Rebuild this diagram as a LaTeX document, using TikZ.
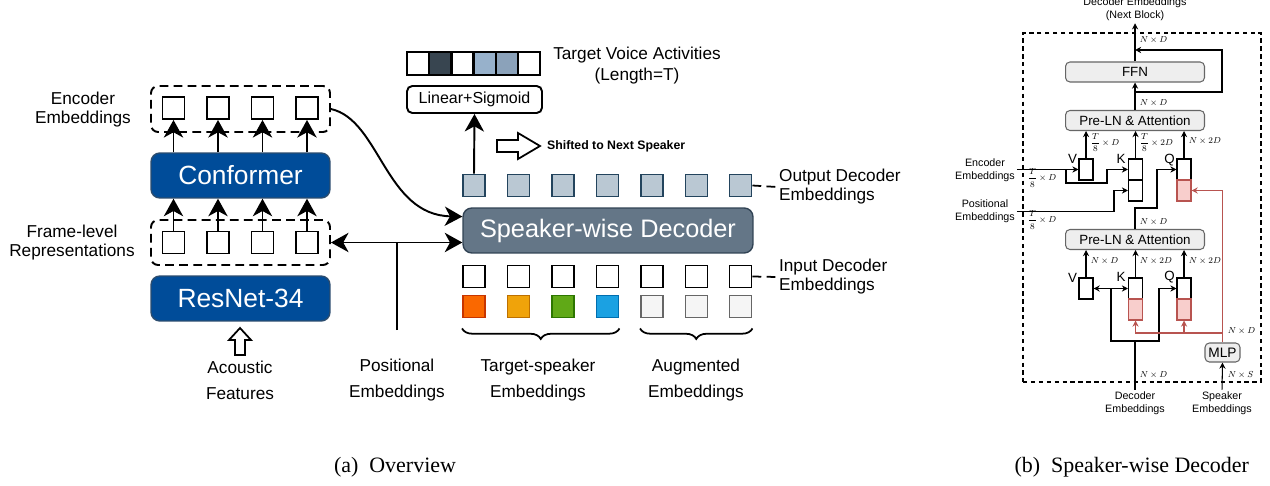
\documentclass[tikz,border=0pt]{standalone}
\usepackage{amsmath}
\usepackage[no-math]{fontspec}
\setmainfont{Liberation Sans}
\newfontfamily\capfont{Liberation Serif}
\usetikzlibrary{arrows.meta,decorations.pathreplacing,calc}
\definecolor{cblue}{HTML}{004C99}
\definecolor{cblued}{HTML}{2B4C6F}
\definecolor{cdec}{HTML}{647687}
\definecolor{cdecd}{HTML}{314354}
\definecolor{osqf}{HTML}{BAC8D3}
\definecolor{osqd}{HTML}{23445D}
\definecolor{redf}{HTML}{F8CECC}
\definecolor{redd}{HTML}{B85450}
\definecolor{grayf}{HTML}{EEEEEE}
\definecolor{grayd}{HTML}{666666}
\definecolor{c1f}{HTML}{FA6800}\definecolor{c1d}{HTML}{C73500}
\definecolor{c2f}{HTML}{F0A30A}\definecolor{c2d}{HTML}{BD7000}
\definecolor{c3f}{HTML}{60A917}\definecolor{c3d}{HTML}{2D7600}
\definecolor{c4f}{HTML}{1BA1E2}\definecolor{c4d}{HTML}{006EAF}
\definecolor{c5f}{HTML}{F5F5F5}\definecolor{c5d}{HTML}{666666}
\definecolor{vdark}{HTML}{384550}
\definecolor{vl1}{HTML}{97B1CB}
\definecolor{vl2}{HTML}{8BA2BA}
\begin{document}
\begin{tikzpicture}[x=0.02cm,y=-0.02cm,
  every node/.style={inner sep=1pt},
  lab/.style={font=\fontsize{9.8}{10.8}\selectfont, align=center},
  labw/.style={font=\fontsize{9.8}{14.7}\selectfont, align=center},
  dbox/.style={draw, line width=1.1pt, dash pattern=on 5pt off 3pt, rounded corners=4pt, minimum width=3.58cm},
  wsq/.style={draw, fill=white, line width=1.1pt, minimum width=0.44cm, minimum height=0.44cm, inner sep=0pt},
  osq/.style={wsq, draw=osqd, fill=osqf},
  vcell/.style={draw, line width=1.3pt, minimum width=0.444cm, minimum height=0.46cm, inner sep=0pt},
  bbox/.style={draw=cblued, fill=cblue, line width=0.8pt, rounded corners=5pt, text=white, font=\fontsize{15}{16}\selectfont, minimum width=3.58cm, minimum height=0.9cm},
  decbox/.style={draw=cdecd, fill=cdec, line width=0.8pt, rounded corners=5pt, text=white, font=\fontsize{14.4}{16}\selectfont, minimum width=5.8cm, minimum height=0.9cm},
  lsbox/.style={draw, line width=1.1pt, rounded corners=3pt, fill=white, font=\fontsize{9.1}{10}\selectfont, minimum width=2.7cm, minimum height=0.54cm},
  bigarr/.style={line width=1.1pt, -{Stealth[length=10pt,width=11pt,inset=3pt]}},
  dblarr/.style={line width=1.1pt, {Stealth[length=10pt,width=11pt,inset=3pt]}-{Stealth[length=10pt,width=11pt,inset=3pt]}},
  dline/.style={line width=1pt, dash pattern=on 5pt off 3pt},
  brc/.style={decorate, decoration={brace, mirror, amplitude=6pt}, line width=1pt},
  hollow/.style={draw, line width=1pt, fill=white, line join=miter},
  gbox/.style={draw=grayd, fill=grayf, line width=0.6pt, rounded corners=2.5pt, font=\fontsize{7.6}{8}\selectfont, minimum width=2.78cm, minimum height=0.4cm, inner sep=0pt},
  abox/.style={draw, fill=white, line width=0.6pt, minimum width=0.28cm, minimum height=0.42cm, inner sep=0pt},
  rbox/.style={abox, draw=redd, fill=redf},
  slab/.style={font=\fontsize{6.1}{7.6}\selectfont, align=center},
  klab/.style={font=\fontsize{7.6}{8}\selectfont},
  mlab/.style={font=\fontsize{8}{9}\selectfont, scale=0.62, anchor=west, inner sep=0.5pt},
  sarr/.style={line width=0.6pt, -{Stealth[length=3.5pt,width=3.5pt]}},
  sdbl/.style={line width=0.6pt, {Stealth[length=3.5pt,width=3.5pt]}-{Stealth[length=3.5pt,width=3.5pt]}},
  rarr/.style={line width=0.6pt, draw=redd, -{Stealth[length=3.5pt,width=3.5pt]}},
  sline/.style={line width=0.6pt}
]
\useasboundingbox (0,0) rectangle (1270,486);

% ===================== Panel (a) =====================
\node[dbox, minimum height=0.92cm] (encbox) at (240.5,109) {};
\node[dbox, minimum height=0.9cm] (frbox) at (240.5,242.5) {};
\node[bbox] (conf) at (240.5,175.5) {Conformer};
\node[bbox] (res) at (240.5,298.5) {ResNet-34};
\foreach \i/\x in {1/173.5,2/218,3/262.5,4/307}{
  \node[wsq] (e\i) at (\x,108) {};
  \node[wsq] (f\i) at (\x,242.5) {};
  \draw[bigarr] (conf.north -| e\i.south) -- (e\i.south);
  \draw[bigarr] (f\i.north) -- (conf.south -| f\i.north);
}
\node[lab] (encl) at (83,110) {Encoder\\Embeddings};
\node[lab] (frl) at (72,243) {Frame-level\\Representations};
\draw[hollow] (240,328) -- (251,340) -- (245,340) -- (245,355) -- (235,355) -- (235,340) -- (229,340) -- cycle;
\node[labw] (acl) at (240,380) {Acoustic\\Features};

% decoder
\node[decbox] (dec) at (608,230.5) {Speaker-wise Decoder};
\foreach \i/\x in {1/474,2/518.5,3/563,4/607.5,5/652,6/696.5,7/740.5}{
  \node[osq] (o\i) at (\x,185.5) {};
  \node[wsq] (in\i) at (\x,276.5) {};
}
\node[wsq, fill=c1f, draw=c1d] (c1) at (474,306.5) {};
\node[wsq, fill=c2f, draw=c2d] (c2) at (518.5,306.5) {};
\node[wsq, fill=c3f, draw=c3d] (c3) at (563,306.5) {};
\node[wsq, fill=c4f, draw=c4d] (c4) at (607.5,306.5) {};
\node[wsq, fill=c5f, draw=c5d] (c5) at (652,306.5) {};
\node[wsq, fill=c5f, draw=c5d] (c6) at (696.5,306.5) {};
\node[wsq, fill=c5f, draw=c5d] (c7) at (740.5,306.5) {};

\draw[bigarr] (encbox.east) .. controls (380,120) and (385,215) .. ($(dec.north west)!0.2!(dec.south west)$);
\draw[dblarr] (frbox.east) -- (dec.west |- frbox.east);
\coordinate (posend) at (397,330);
\draw[line width=1.1pt] (posend) -- (posend |- frbox.east);
\node[labw] (posl) at (397,380) {Positional\\Embeddings};

\node[lab, anchor=west, align=left] (outl) at (777,187) {Output Decoder\\Embeddings};
\node[lab, anchor=west, align=left] (inl) at (777,277) {Input Decoder\\Embeddings};
\draw[dline] (o7.east) -- (outl.west);
\draw[dline] (in7.east) -- (inl.west);

\draw[brc] ($(c1.south west)+(0,10)$) -- ($(c4.south east)+(0,10)$);
\draw[brc] ($(c5.south west)+(0,10)$) -- ($(c7.south east)+(0,10)$);
\node[labw] (tsl) at (538,380) {Target-speaker\\Embeddings};
\node[labw] (augl) at (696,380) {Augmented\\Embeddings};

% top
\node[vcell, fill=white] (v1) at (418.1,63.5) {};
\node[vcell, fill=vdark] (v2) at (440.3,63.5) {};
\node[vcell, fill=white] (v3) at (462.5,63.5) {};
\node[vcell, fill=vl1] (v4) at (484.7,63.5) {};
\node[vcell, fill=vl2] (v5) at (506.9,63.5) {};
\node[vcell, fill=white] (v6) at (529.1,63.5) {};
\node[font=\fontsize{9.8}{11.9}\selectfont, align=center] (tva) at (637,66) {Target Voice Activities\\(Length=T)};
\node[lsbox] (lin) at (474.5,99.5) {Linear+Sigmoid};
\draw[bigarr] (o1.north) -- (lin.south);
\draw[hollow] (497,140) -- (518,140) -- (518,133) -- (540,146) -- (518,159) -- (518,152) -- (497,152) -- cycle;
\node[font=\bfseries\fontsize{7}{8}\selectfont, anchor=west] (shl) at (545,146) {Shifted to Next Speaker};

\node[font=\capfont\fontsize{12.5}{14}\selectfont] (capa) at (395,467) {(a)\ \ Overview};

% ===================== Panel (b) =====================
\node[draw, line width=0.9pt, dash pattern=on 2.5pt off 2pt, minimum width=4.76cm, minimum height=6.98cm, inner sep=0pt] (outer) at (1142,207.5) {};
\node[slab] (outtxt) at (1135,9.5) {Decoder Embeddings\\(Next Block)};
\node[gbox] (ffn) at (1135,72) {FFN};
\node[gbox] (pt) at (1135,120.5) {Pre-LN \& Attention};
\node[gbox] (pb) at (1135,239.5) {Pre-LN \& Attention};
\node[gbox, minimum width=0.7cm, minimum height=0.38cm, font=\fontsize{7.8}{8}\selectfont] (mlp) at (1222.5,352.5) {MLP};

\draw[sarr] (ffn.north) -- (outtxt.south);
\node[mlab] (l0) at (1139,40) {$N\times D$};
\draw[sarr] (pt.north) -- (ffn.south);
\node[mlab] (l1) at (1139,103) {$N\times D$};
\coordinate (rs) at (1135,92);
\coordinate (re) at (1135,50);
\draw[sarr] (rs) -- ++(87,0) |- (re);

% top attention inputs
\node[abox] (va) at (1086,169.5) {};
\node[abox] (ka) at (1135.5,169.5) {};
\node[abox] (kb) at (1135.5,190.5) {};
\node[abox] (qa) at (1184,169.5) {};
\node[rbox] (qb) at (1184,190.5) {};
\node[klab] (vl) at (1072.5,159) {V};
\node[klab] (kl) at (1121,159) {K};
\node[klab] (ql) at (1169.5,160) {Q};
\draw[sarr] (va.north) -- (va.north |- pt.south);
\draw[sarr] (ka.north) -- (ka.north |- pt.south);
\draw[sarr] (qa.north) -- (qa.north |- pt.south);
\node[mlab] (l2) at (1090,142.5) {$\dfrac{T}{8}\times D$};
\node[mlab] (l3) at (1139,142.5) {$\dfrac{T}{8}\times 2D$};
\node[mlab] (l4) at (1188,141) {$N\times 2D$};

\node[slab] (encb) at (985,170) {Encoder\\Embeddings};
\node[slab] (posb) at (985,211.5) {Positional\\Embeddings};
\draw[sarr] (encb.east |- va.west) -- (va.west);
\coordinate (eb) at (1066,169.5);
\draw[sarr] (eb) |- (1107,183) |- (ka.west);
\draw[sarr] (posb.east) -- (1114,211.5) |- (kb.west);
\node[mlab] (l5) at (1027,178) {$\dfrac{T}{8}\times D$};
\node[mlab] (l6) at (1027,220) {$\dfrac{T}{8}\times D$};

\draw[sarr] (pb.north) -- ++(0,-21) -| (1157,190) |- (qa.west);
\node[mlab] (l7) at (1139,222) {$N\times D$};
\draw[rarr] (mlp.north) |- (qb.east);

% bottom attention inputs
\node[abox] (vc) at (1086,288.5) {};
\node[abox] (kc) at (1135.5,288.5) {};
\node[rbox] (kd) at (1135.5,309.5) {};
\node[abox] (qc) at (1184,288.5) {};
\node[rbox] (qd) at (1184,309.5) {};
\node[klab] (vl2) at (1072.5,277.5) {V};
\node[klab] (kl2) at (1121,277) {K};
\node[klab] (ql2) at (1169.5,277.5) {Q};
\draw[sarr] (vc.north) -- (vc.north |- pb.south);
\draw[sarr] (kc.north) -- (kc.north |- pb.south);
\draw[sarr] (qc.north) -- (qc.north |- pb.south);
\node[mlab] (l8) at (1090,261) {$N\times D$};
\node[mlab] (l9) at (1139,261) {$N\times 2D$};
\node[mlab] (l10) at (1188,261) {$N\times 2D$};

\draw[sdbl] (vc.east) -- (kc.west);
\node[slab] (decin) at (1135,403.5) {Decoder\\Embeddings};
\node[slab] (spk) at (1222,403.5) {Speaker\\Embeddings};
\coordinate (dj) at (1135,341);
\draw[sline] (decin.north) |- (1111,341) -- (1111,288.5);
\draw[sarr] (dj) -| (1159,300) |- (qc.west);
\node[mlab] (l11) at (1139,375) {$N\times D$};
\draw[sarr] (spk.north) -- (mlp.south);
\node[mlab] (l12) at (1227,375) {$N\times S$};

\coordinate (rj) at (1222.5,333);
\draw[rarr] (rj) -| (kd.south);
\draw[rarr] (qd.south |- rj) -- (qd.south);
\node[mlab] (l13) at (1227,331) {$N\times D$};

\node[font=\capfont\fontsize{12.5}{14}\selectfont, anchor=east] (capb) at (1251,467) {(b)\ \ Speaker-wise Decoder};
\end{tikzpicture}
\end{document}
